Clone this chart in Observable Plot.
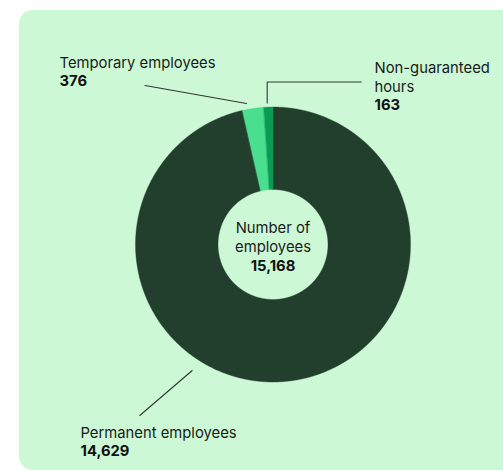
<!DOCTYPE html>
<html><head><meta charset="utf-8">
<script src="https://cdn.jsdelivr.net/npm/d3@7"></script>
<script src="https://cdn.jsdelivr.net/npm/@observablehq/plot@0.6"></script>
<style>
html,body{margin:0;padding:0;background:#fff;}
#wrap{position:relative;width:503px;height:471px;overflow:hidden;}
#panel{position:absolute;left:19px;top:10px;width:510px;height:460px;border-radius:14px;background:#ccf8d6;}
#chart{position:absolute;left:0;top:0;}
</style></head><body>
<div id="wrap"><div id="panel"></div><div id="chart"></div></div>
<script>
// ---- data ----
const categories = ["Permanent employees", "Temporary employees", "Non-guaranteed hours"];
const values = [14629, 376, 163];
const colors = ["#223f2e", "#4ade8f", "#0b9a51"];
const centerTitle = ["Number of", "employees"];
const totalLabel = "15,168";
const valueLabels = ["14,629", "376", "163"];
const nameLines = [["Permanent employees"], ["Temporary employees"], ["Non-guaranteed", "hours"]];

// ---- layout ----
const W = 503, H = 471;
const cx = 272.5, cy = 244, R = 137.5, r0 = 55;
const FS = 14.8, LH = 18.5;
const labelPos = [ {x: 80, y: 437}, {x: 59, y: 67}, {x: 374, y: 72.7} ]; // baseline of first line
const leaders = [
  [[191.7, 370], [139.3, 415]],
  [[246, 103], [144.5, 85]],
  [[266.7, 102.5], [266.7, 81.5], [360.7, 81.5]]
];

// ---- arcs ----
const pie = d3.pie().sort(null).value(d => d)(values);
const pts = [];
pie.forEach((p, i) => {
  const a0 = p.startAngle, a1 = p.endAngle;
  const n = Math.max(4, Math.ceil((a1 - a0) / (Math.PI / 720)));
  for (let k = 0; k <= n; k++) {
    const a = a0 + (a1 - a0) * k / n;
    pts.push({cat: categories[i], x: cx + R * Math.sin(a), y: cy - R * Math.cos(a)});
  }
  for (let k = n; k >= 0; k--) {
    const a = a0 + (a1 - a0) * k / n;
    pts.push({cat: categories[i], x: cx + r0 * Math.sin(a), y: cy - r0 * Math.cos(a)});
  }
});

// ---- text ----
const normalText = [], boldText = [];
categories.forEach((c, i) => {
  const p = labelPos[i];
  nameLines[i].forEach((t, j) => normalText.push({x: p.x, y: p.y + j * LH, t, anchor: "start"}));
  boldText.push({x: p.x, y: p.y + nameLines[i].length * LH, t: valueLabels[i], anchor: "start"});
});
centerTitle.forEach((t, j) => normalText.push({x: cx, y: 232.5 + j * 19, t, anchor: "middle"}));
boldText.push({x: cx, y: 232.5 + 2 * 19, t: totalLabel, anchor: "middle"});

const linkData = leaders.flatMap((pl, i) => pl.map(([x, y]) => ({i, x, y})));

const chart = Plot.plot({
  width: W, height: H, margin: 0,
  x: {domain: [0, W], range: [0, W], axis: null},
  y: {domain: [0, H], range: [0, H], axis: null},
  color: {domain: categories, range: colors},
  style: {background: "transparent", fontFamily: "Inter, 'Liberation Sans', sans-serif", fontSize: FS + "px", color: "#1a1a1a"},
  marks: [
    Plot.line(pts, {x: "x", y: "y", z: "cat", fill: "cat", stroke: "cat", strokeWidth: 0.4, curve: "linear-closed"}),
    Plot.line(linkData, {x: "x", y: "y", z: "i", stroke: "#2b3a31", strokeWidth: 1.1}),
    ...["start", "middle"].map(an => Plot.text(normalText.filter(d => d.anchor === an), {x: "x", y: "y", text: "t", textAnchor: an, lineAnchor: "bottom", fill: "#1a1a1a", fontSize: FS})),
    ...["start", "middle"].map(an => Plot.text(boldText.filter(d => d.anchor === an), {x: "x", y: "y", text: "t", textAnchor: an, lineAnchor: "bottom", fill: "#111", fontSize: FS, fontWeight: 700}))
  ]
});
document.getElementById("chart").appendChild(chart);
</script>
</body></html>
